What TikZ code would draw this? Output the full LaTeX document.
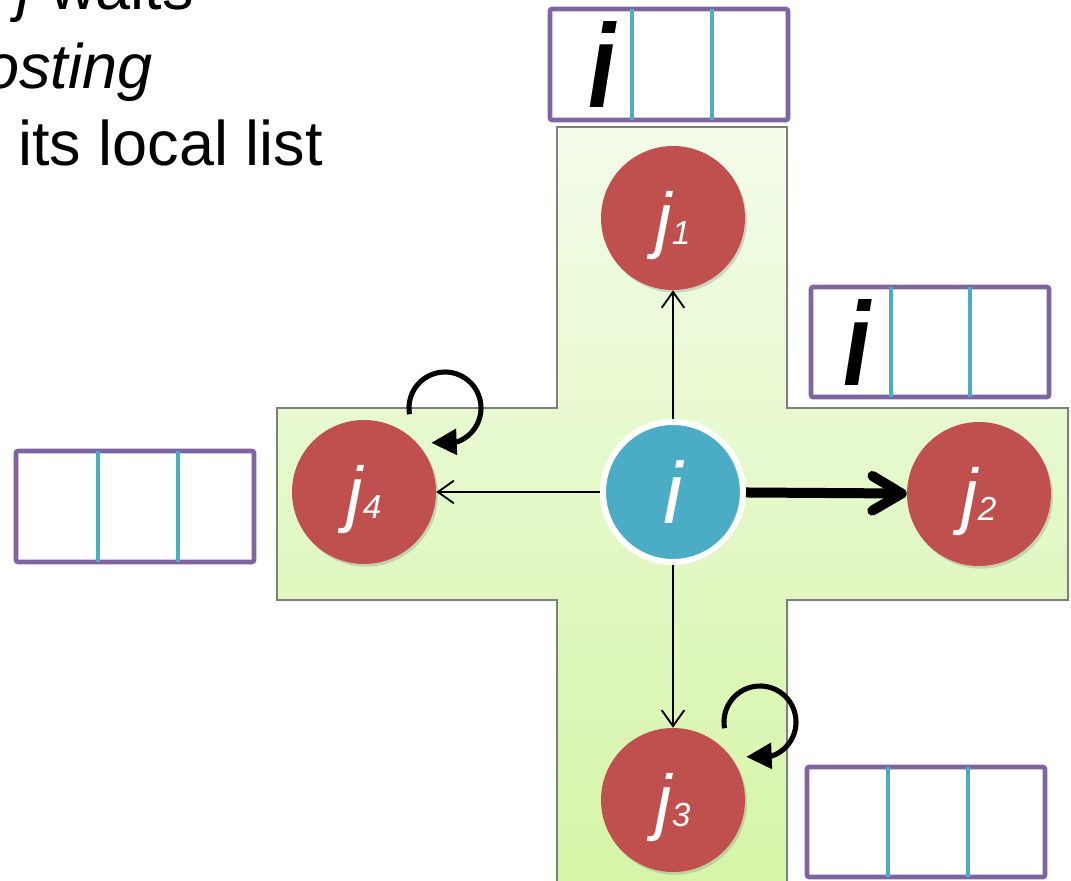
\documentclass[tikz,border=0pt]{standalone}
\usepackage{fontspec}
\setmainfont{Liberation Sans}
\usetikzlibrary{arrows.meta,shadows,calc}
\definecolor{redc}{HTML}{C0504D}
\definecolor{bluec}{HTML}{4BACC6}
\definecolor{purp}{HTML}{8064A2}
\definecolor{crossborder}{HTML}{7F7F7F}
\definecolor{greentop}{HTML}{F3FCEA}
\definecolor{greenbot}{HTML}{D5F5A6}
\newcommand{\jsub}[1]{{\fontsize{25pt}{25pt}\selectfont\itshape #1}}
\tikzset{
  jnode/.style={circle, fill=redc, minimum size=108pt, inner sep=0pt, text=white,
    text depth=0pt, font=\fontsize{55pt}{55pt}\selectfont\itshape,
    drop shadow={opacity=0.3, shadow xshift=1.5pt, shadow yshift=-2pt}},
  inode/.style={circle, fill=bluec, draw=white, line width=4.5pt, minimum size=105pt,
    inner sep=0pt, text=white, font=\fontsize{65pt}{65pt}\selectfont\itshape,
    drop shadow={opacity=0.3, shadow xshift=1.5pt, shadow yshift=-2pt}},
  listbox/.style={draw=purp, line width=3.4pt, rounded corners=1.5pt},
  divider/.style={draw=bluec, line width=3pt},
  thinarrow/.style={line width=1.4pt, -{Straight Barb[length=12pt,width=17pt]}},
  thickarrow/.style={line width=7.5pt, -{Straight Barb[round,length=22pt,width=26pt]}},
  selfloop/.style={line width=3.8pt, -{Triangle[length=19pt,width=19pt]}},
  bigtext/.style={font=\fontsize{47.25pt}{56pt}\selectfont, inner sep=0pt, anchor=base west},
  boxi/.style={font=\fontsize{89pt}{89pt}\selectfont\bfseries\itshape, inner sep=0pt,
    xscale=0.82, transform shape},
}
\begin{document}
\begin{tikzpicture}[x=0.75pt,y=-0.75pt]
\useasboundingbox (0,0) rectangle (1071,881);
\clip (0,0) rectangle (1071,881);
\fill[white] (0,0) rectangle (1071,881);
% text
\node[bigtext] (t1) at (17,10) {\textit{j} waits};
\node[bigtext] (t2) at (-16,89) {\textit{osting}};
\node[bigtext] (t3) at (18,166) {its local list};
% cross
\path[draw=crossborder, line width=1.3pt, top color=greentop, bottom color=greenbot,
  drop shadow={opacity=0.2, shadow xshift=1pt, shadow yshift=-1pt}]
  (557,127) -- (787,127) -- (787,408) -- (1068,408) -- (1068,600) -- (787,600)
  -- (787,890) -- (557,890) -- (557,600) -- (277,600) -- (277,408) -- (557,408) -- cycle;
% list boxes
\draw[listbox] (550,9) rectangle (788,120);
\draw[divider] (632,9) -- (632,120);
\draw[divider] (712,9) -- (712,120);
\draw[listbox] (811,287) rectangle (1049,397);
\draw[divider] (891,287) -- (891,397);
\draw[divider] (970,287) -- (970,397);
\draw[listbox] (16,451) rectangle (254,562);
\draw[divider] (98,451) -- (98,562);
\draw[divider] (178,451) -- (178,562);
\draw[listbox] (807,767) rectangle (1045,877);
\draw[divider] (888,767) -- (888,877);
\draw[divider] (968,767) -- (968,877);
% i labels in lists
\node[boxi] (itop) at (602,65) {i};
\node[boxi] (iright) at (857,343) {i};
% nodes
\node[jnode] (j1) at (673,218) {j\jsub{1}};
\node[jnode] (j2) at (979,494) {j\jsub{2}};
\node[jnode] (j3) at (673,800) {j\jsub{3}};
\node[jnode] (j4) at (364,492) {j\jsub{4}};
\node[inode] (i) at (673,492) {i};
% connectors
\draw[thinarrow] (i) -- (j1);
\draw[thinarrow] (i) -- (j4);
\draw[thinarrow] (i) -- (j3);
\draw[thickarrow] (i) -- (j2);
% self loops
\draw[selfloop] ($(445,408)+(170:36)$) arc[start angle=170, end angle=430, radius=36] -- ++(-26,1);
\draw[selfloop] ($(760,722)+(170:36)$) arc[start angle=170, end angle=430, radius=36] -- ++(-26,1);
\end{tikzpicture}
\end{document}
